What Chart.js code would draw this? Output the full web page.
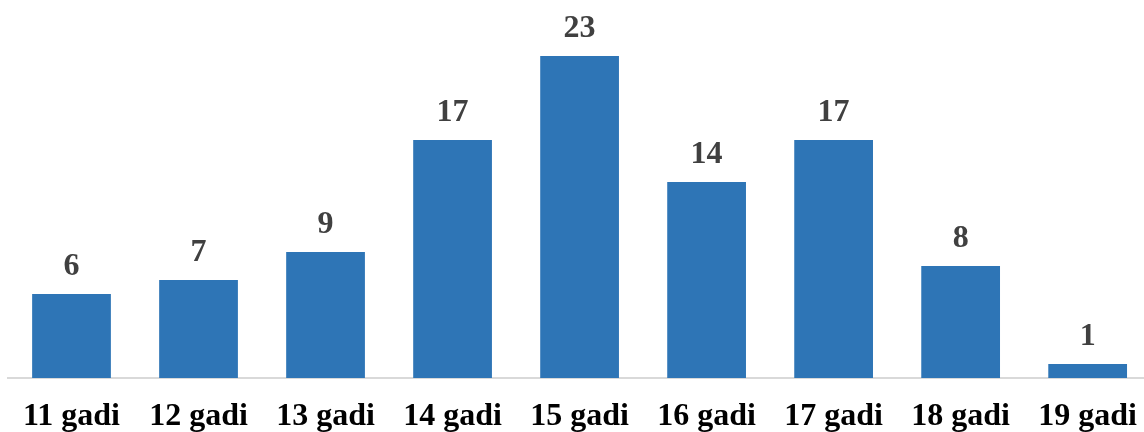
<!DOCTYPE html>
<html>
<head>
<meta charset="utf-8">
<script src="https://cdn.jsdelivr.net/npm/chart.js@4"></script>
<style>
  html, body { margin: 0; padding: 0; background: #fff; overflow: hidden; }
  #wrap { width: 1157px; height: 432px; position: relative; }
</style>
</head>
<body>
<div id="wrap"><canvas id="ageChart"></canvas></div>
<script>
// vecuma grupas un skaits
const labels = ['11 gadi', '12 gadi', '13 gadi', '14 gadi', '15 gadi', '16 gadi', '17 gadi', '18 gadi', '19 gadi'];
const counts = [6, 7, 9, 17, 23, 14, 17, 8, 1];

// vērtības virs stabiņiem
const valueLabels = {
    id: 'valueLabels',
    afterDatasetsDraw(chart) {
        const ctx = chart.ctx;
        const meta = chart.getDatasetMeta(0);
        ctx.save();
        ctx.font = 'bold 32px "Liberation Serif"';
        ctx.fillStyle = '#404040';
        ctx.textAlign = 'center';
        ctx.textBaseline = 'alphabetic';
        meta.data.forEach(function (bar, i) {
            ctx.fillText(String(counts[i]), bar.x, bar.y - 19);
        });
        ctx.restore();
    }
};

const ctx = document.getElementById('ageChart').getContext('2d');
new Chart(ctx, {
    type: 'bar',
    data: {
        labels: labels,
        datasets: [{
            data: counts,
            backgroundColor: '#2E75B6',
            borderWidth: 0,
            barPercentage: 0.62,
            categoryPercentage: 1
        }]
    },
    options: {
        responsive: true,
        maintainAspectRatio: false,
        animation: false,
        layout: { padding: { left: 8, right: 0, top: 0, bottom: 0 } },
        plugins: {
            legend: { display: false },
            tooltip: { enabled: false }
        },
        scales: {
            x: {
                grid: { display: false, drawTicks: false },
                border: { display: true, color: '#D9D9D9', width: 2 },
                ticks: {
                    color: '#000',
                    font: { family: 'Liberation Serif', size: 32, weight: 'bold' },
                    padding: 20,
                    maxRotation: 0,
                    autoSkip: false
                },
                afterFit: function (scale) { scale.height = 54; }
            },
            y: {
                display: false,
                min: 0,
                max: 27
            }
        }
    },
    plugins: [valueLabels]
});
</script>
</body>
</html>
